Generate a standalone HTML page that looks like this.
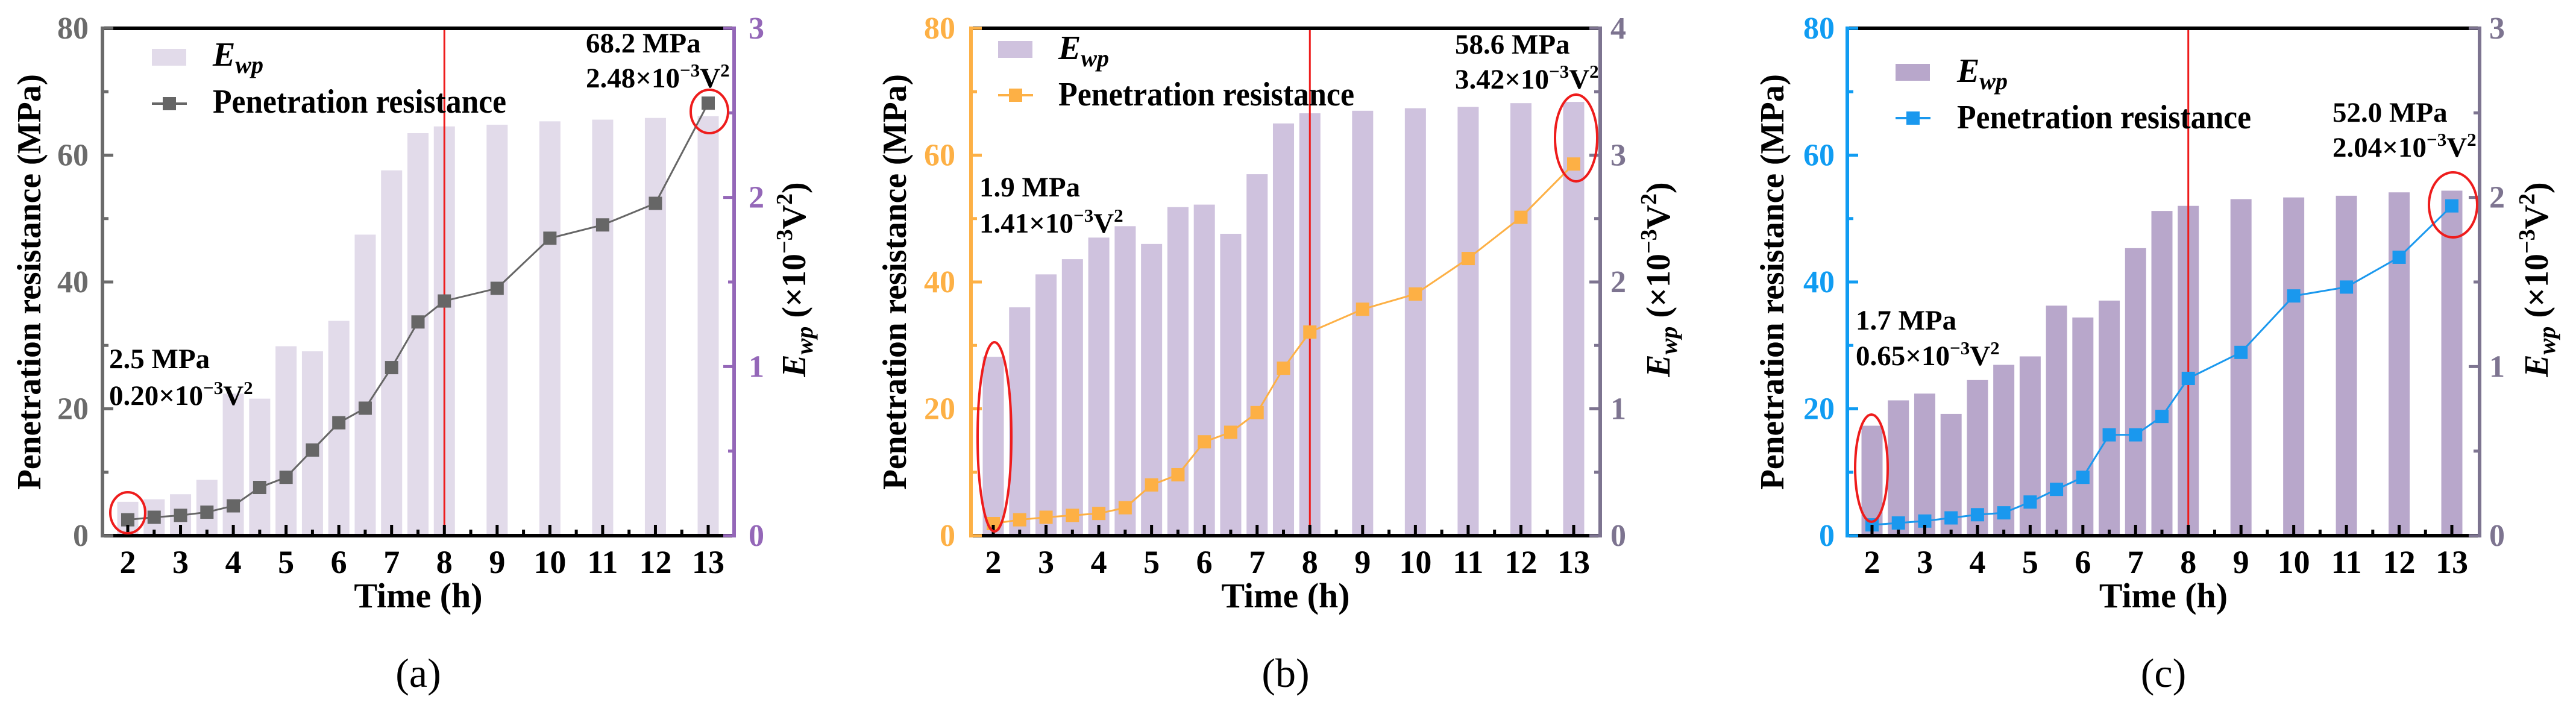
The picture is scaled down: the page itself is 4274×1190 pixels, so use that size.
<!DOCTYPE html>
<html><head><meta charset="utf-8"><style>
html,body{margin:0;padding:0;background:#fff;}
svg, svg text, svg tspan{font-family:"Liberation Serif","DejaVu Serif",serif;}
</style></head><body>
<svg id="fig" width="4274" height="1185" viewBox="0 0 4274 1185" xmlns="http://www.w3.org/2000/svg"></svg>
<script>
const times = [2,2.5,3,3.5,4,4.5,5,5.5,6,6.5,7,7.5,8,9,10,11,12,13];
const xTicks = [2,3,4,5,6,7,8,9,10,11,12,13];
const leftTicks = [0,20,40,60,80];
const prA = [2.5,2.9,3.2,3.7,4.7,7.6,9.2,13.5,17.8,20.1,26.5,33.7,37.0,39.0,46.9,49.0,52.4,68.2];
const ewA = [0.20,0.215,0.245,0.33,0.84,0.81,1.12,1.09,1.27,1.78,2.16,2.38,2.42,2.43,2.45,2.46,2.47,2.48];
const prB = [1.9,2.5,2.9,3.2,3.5,4.4,8.0,9.6,14.8,16.3,19.4,26.4,32.1,35.7,38.1,43.7,50.2,58.6];
const ewB = [1.41,1.80,2.06,2.18,2.35,2.44,2.30,2.59,2.61,2.38,2.85,3.25,3.33,3.35,3.37,3.38,3.41,3.42];
const prC = [1.7,2.0,2.3,2.8,3.3,3.6,5.3,7.3,9.2,15.9,15.9,18.8,24.8,28.9,37.8,39.2,43.9,52.0];
const ewC = [0.65,0.80,0.84,0.72,0.92,1.01,1.06,1.36,1.29,1.39,1.70,1.92,1.95,1.99,2.00,2.01,2.03,2.04];
const rightTicksA = [0,1,2,3];
const rightTicksB = [0,1,2,3,4];
const rightTicksC = [0,1,2,3];

const NS="http://www.w3.org/2000/svg";
const svg=document.getElementById('fig');
function mk(tag,attrs,parent,txt){const e=document.createElementNS(NS,tag);
 for(const k in attrs)e.setAttribute(k,attrs[k]);
 if(tag==='text')e.setAttribute('font-family',"'Liberation Serif', 'DejaVu Serif', serif");
 if(txt!==undefined)e.textContent=txt;(parent||svg).appendChild(e);return e;}

const panels=[
 {id:'a',L:170,R:1218,x2:212,x13:1175,pr:prA,ew:ewA,rt:rightTicksA,rmax:3,leftCol:'#6b6b6b',rightCol:'#9467b8',bar:'#e2dbea',line:'#666666',
  tickEnd:147,rLab:1242,lTitle:49,rTitle:1318,
  leg:{sx:252,sy:81,ty1:109,ly:172,ty2:187,tx:353,tlen:487},
  ann:[[972,87,145,1200],[181,611,672,409]],ell:[[212,851,29,34],[1177,185,31,36]],lab:'(a)'},
 {id:'b',L:1611,R:2655,x2:1648,x13:2611,pr:prB,ew:ewB,rt:rightTicksB,rmax:4,leftCol:'#fdb045',rightCol:'#7d7490',bar:'#cfc2de',line:'#fdb045',
  tickEnd:1585,rLab:2672,lTitle:1485,rTitle:2752,
  leg:{sx:1656,sy:68,ty1:98,ly:158,ty2:175,tx:1756,tlen:491},
  ann:[[2414,89,147,2643],[1625,326,386,1854]],ell:[[1650,725,28,157],[2615,229,35,72]],lab:'(b)'},
 {id:'c',L:3065,R:4114,x2:3106,x13:4068,pr:prC,ew:ewC,rt:rightTicksC,rmax:3,leftCol:'#109cf2',rightCol:'#7d7490',bar:'#b8a7cb',line:'#1a98ee',
  tickEnd:3044,rLab:4130,lTitle:2941,rTitle:4209,
  leg:{sx:3145,sy:106,ty1:136,ly:196,ty2:213,tx:3247,tlen:488},
  ann:[[3870,202,260,4097],[3079,547,606,3305]],ell:[[3105,777,27,89],[4070,340,40,54]],lab:'(c)'}
];
const T=47,B=889;
panels.forEach(p=>{
 const g=mk('g',{});
 
 
 const xs=t=>p.x2+(t-2)*(p.x13-p.x2)/11;
 const yl=v=>B-v*(B-T)/80;
 const yr=v=>B-v*(B-T)/p.rmax;
 const bw=0.4*(p.x13-p.x2)/11;
 p.ew.forEach((v,i)=>{const r=mk('rect',{x:xs(times[i])-bw/2,y:yr(v),width:bw,height:B-yr(v),fill:p.bar},g);
  
  });
 const rl=mk('line',{x1:xs(8),x2:xs(8),y1:T,y2:B,stroke:'#ee1c1c','stroke-width':3},g);
 
 
 const pts=p.pr.map((v,i)=>xs(times[i])+','+yl(v)).join(' ');
 const pl=mk('polyline',{points:pts,fill:'none',stroke:p.line,'stroke-width':3},g);
 
 
 p.pr.forEach((v,i)=>{const m=mk('rect',{x:xs(times[i])-11,y:yl(v)-11,width:22,height:22,fill:p.line},g);
  
  });
 const ax=[[p.L,T,p.R,T,'#000','top-axis'],[p.L,B,p.R,B,'#000','x-axis'],[p.L,T-3,p.L,B+3,p.leftCol,'left-axis'],[p.R,T-3,p.R,B+3,p.rightCol,'right-axis']];
 ax.forEach(a=>{const l=mk('line',{x1:a[0],y1:a[1],x2:a[2],y2:a[3],stroke:a[4],'stroke-width':6},g);
  
  });
 for(let t=2;t<=13;t+=0.5){const maj=Number.isInteger(t);mk('line',{x1:xs(t),x2:xs(t),y1:B,y2:B-(maj?18:10),stroke:'#000','stroke-width':5},g);}
 xTicks.forEach(t=>{const e=mk('text',{x:xs(t),y:951,'text-anchor':'middle','font-size':54,'font-weight':'bold',fill:'#000'},g,String(t));
  
  });
 for(let v=0;v<=80;v+=10){const maj=v%20===0;mk('line',{x1:p.L,x2:p.L+(maj?18:10),y1:yl(v),y2:yl(v),stroke:p.leftCol,'stroke-width':5},g);}
 leftTicks.forEach(v=>{const e=mk('text',{x:p.tickEnd,y:yl(v)+17,'text-anchor':'end','font-size':52,'font-weight':'bold',fill:p.leftCol},g,String(v));
  
  });
 for(let v=0;v<=p.rmax;v+=0.5){const maj=Number.isInteger(v);mk('line',{x1:p.R,x2:p.R-(maj?18:10),y1:yr(v),y2:yr(v),stroke:p.rightCol,'stroke-width':5},g);}
 p.rt.forEach(v=>{const e=mk('text',{x:p.rLab,y:yr(v)+17,'font-size':52,'font-weight':'bold',fill:p.rightCol},g,String(v));
  
  });
 const xt=mk('text',{x:(p.L+p.R)/2,y:1008,'text-anchor':'middle','font-size':58,'font-weight':'bold'},g,'Time (h)');
 
 
 const lt=mk('text',{x:0,y:0,'text-anchor':'middle','font-size':56,'font-weight':'bold',transform:`translate(${p.lTitle+18},468) rotate(-90)`,textLength:690,lengthAdjust:'spacingAndGlyphs'},g,'Penetration resistance (MPa)');
 
 
 const rtt=mk('text',{x:0,y:0,'text-anchor':'middle','font-size':56,'font-weight':'bold',transform:`translate(${p.rTitle+18},464) rotate(-90)`},g);
 
 
 rtt.innerHTML='<tspan font-style="italic">E</tspan><tspan font-style="italic" font-size="40" dy="12">wp</tspan><tspan dy="-12"> (×10</tspan><tspan font-size="38" dy="-22">−3</tspan><tspan dy="22">V</tspan><tspan font-size="38" dy="-22">2</tspan><tspan dy="22">)</tspan>';
 const L=p.leg;
 const sw=mk('rect',{x:L.sx,y:L.sy,width:57,height:28,fill:p.bar},g);
 
 
 const lt1=mk('text',{x:L.tx,y:L.ty1,'font-size':56,'font-weight':'bold'},g);
 
 
 lt1.innerHTML='<tspan font-style="italic">E</tspan><tspan font-style="italic" font-size="40" dy="12">wp</tspan>';
 mk('line',{x1:L.sx,x2:L.sx+58,y1:L.ly,y2:L.ly,stroke:p.line,'stroke-width':4},g);
 mk('rect',{x:L.sx+18,y:L.ly-11,width:22,height:22,fill:p.line},g);
 const lt2=mk('text',{x:L.tx,y:L.ty2,'font-size':56,'font-weight':'bold',textLength:L.tlen,lengthAdjust:'spacingAndGlyphs'},g,'Penetration resistance');
 
 
 const annTexts={a:[['68.2 MPa','2.48'],['2.5 MPa','0.20']],b:[['58.6 MPa','3.42'],['1.9 MPa','1.41']],c:[['52.0 MPa','2.04'],['1.7 MPa','0.65']]}[p.id];
 p.ann.forEach((a,i)=>{
  const t1=mk('text',{x:a[0],y:a[1],'font-size':47,'font-weight':'bold'},g,annTexts[i][0]);
  
  
  const t2=mk('text',{x:a[0],y:a[2],'font-size':47,'font-weight':'bold'},g);
  
  
  t2.innerHTML=annTexts[i][1]+'×10<tspan font-size="31" dy="-18">−3</tspan><tspan dy="18">V</tspan><tspan font-size="31" dy="-18">2</tspan>';
 });
 p.ell.forEach(e=>{const el=mk('ellipse',{cx:e[0],cy:e[1],rx:e[2],ry:e[3],fill:'none',stroke:'#ee1c1c','stroke-width':4},g);
  
  });
 const pl2=mk('text',{x:(p.L+p.R)/2,y:1140,'text-anchor':'middle','font-size':68,fill:'#000'},g,p.lab);
 
 
});
</script>
</body></html>
